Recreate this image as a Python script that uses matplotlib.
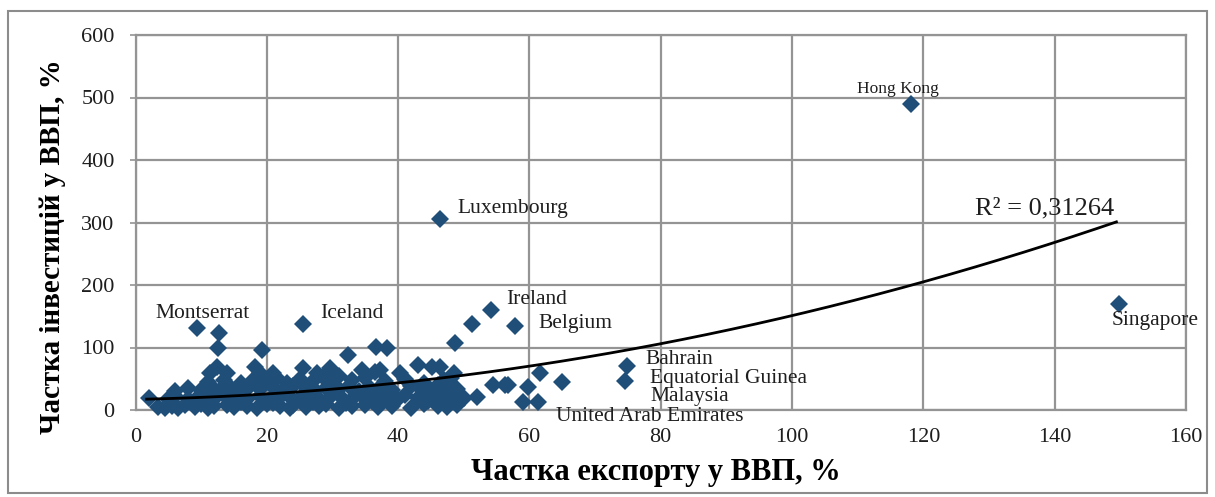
import matplotlib
matplotlib.use("Agg")
import matplotlib.pyplot as plt
import numpy as np
from matplotlib.patches import Rectangle

# ---- data (export share of GDP %, investment share of GDP %) ----
export_share = [
    # bottom row
    3.5, 4.5, 5.5, 6.5, 7.5, 9, 10, 11, 12, 14, 15, 17, 18.5, 20, 22, 23.5, 24, 26, 28, 29,
    31, 33, 35, 37, 39, 42, 44, 46, 47.5, 49,
    # y ~15-25
    2, 5, 6, 8, 9.5, 11, 12.5, 14, 15.5, 17, 19, 20.5, 22, 23, 25, 26.5, 28, 30, 31.5, 33,
    34.5, 36, 38, 40, 41, 43, 45, 46.5, 48, 50, 52,
    # y ~28-40
    6, 8, 10, 11.5, 13, 14.5, 16, 17.5, 19, 21, 22.5, 24, 26, 27.5, 29, 31, 32.5, 34, 35.5, 37,
    39, 42, 44, 46, 47.5, 49, 54.5, 56.3,
    # y ~40-55
    11, 13.5, 16, 18, 20, 21.5, 23, 25, 27, 28.5, 30, 33, 35, 38, 41, 44, 47, 48,
    # y ~55-72
    12.4, 11.3, 13.9, 18.2, 19, 21, 25.5, 27.6, 29.6, 34.5, 36.5, 37.2, 40.3, 43, 45.1, 46.4, 48.5, 31,
    # extra in the dense blob
    44.5, 45.5, 47, 48.5, 46, 43.5, 36, 32, 27, 21, 16, 9,
    # higher
    19.3, 12.5, 32.4, 36.6, 38.3, 48.7, 9.4, 12.7, 25.5, 51.3, 54.1, 57.8, 46.4, 118.1, 149.8,
    # right group
    61.6, 64.9, 56.7, 59.8, 59.0, 61.3, 74.8, 74.6,
]
investment_share = [
    5, 3, 7, 4, 8, 5, 9, 4, 6, 8, 5, 7, 4, 9, 6, 3, 8, 5, 7, 9,
    4, 6, 8, 5, 7, 4, 9, 6, 5, 8,
    19, 17, 22, 18, 21, 16, 24, 19, 22, 17, 23, 18, 21, 25, 19, 22, 17, 24, 20, 18,
    23, 19, 21, 17, 24, 20, 22, 18, 23, 19, 21,
    30, 35, 32, 38, 33, 36, 31, 39, 34, 37, 32, 38, 35, 30, 36, 33, 39, 31, 37, 34,
    32, 38, 35, 30, 36, 33, 40, 40,
    45, 48, 43, 50, 46, 52, 44, 49, 47, 53, 45, 48, 51, 46, 50, 44, 48, 52,
    69, 59, 59, 69, 60, 59, 67, 59, 67, 64, 61, 64, 59, 72, 69, 69, 60, 55,
    14, 28, 12, 26, 40, 33, 14, 12, 13, 12, 13, 12,
    96, 99, 88, 101, 99, 107, 131, 124, 138, 138, 160, 135, 306, 489, 170,
    59, 45, 40, 37, 13, 13, 70, 46,
]

# labelled countries
label_names = ["Hong Kong", "Luxembourg", "Ireland", "Belgium", "Iceland", "Montserrat",
               "Singapore", "Bahrain", "Equatorial Guinea", "Malaysia", "United Arab Emirates"]
label_x = [109.9, 49.1, 56.4, 61.4, 28.2, 3.0, 148.7, 77.6, 78.4, 78.4, 64.0]
label_y = [514, 322, 176, 138, 154, 155, 144, 80, 51, 22, -11]
label_size = [12.5, 15.5, 15.5, 15.5, 15.5, 15.5, 15.5, 15.5, 15.5, 15.5, 15.5]

# trend line (quadratic) coefficients: y = a*x^2 + b*x + c
trend_a, trend_b, trend_c = 0.01135, 0.205, 17.0
trend_x_range = [1.7, 149.4]
r2_text = "R² = 0,31264"

x_ticks = [0, 20, 40, 60, 80, 100, 120, 140, 160]
y_ticks = [0, 100, 200, 300, 400, 500, 600]
x_label = "Частка експорту у ВВП, %"
y_label = "Частка інвестицій у ВВП, %"

# ---- plotting ----
plt.rcParams['font.family'] = ['Liberation Serif', 'DejaVu Serif']
W, H = 1215, 497
fig = plt.figure(figsize=(W / 100, H / 100), dpi=100)
ax = fig.add_axes([135.5 / W, 1 - 410 / H, (1186 - 135.5) / W, (410 - 35) / H])

grid_col = '#949494'
text_col = '#1e1e1e'
ax.set_xlim(0, 160)
ax.set_ylim(0, 600)
ax.set_xticks(x_ticks)
ax.set_yticks(y_ticks)
ax.grid(True, color=grid_col, linewidth=1.6)
ax.set_axisbelow(True)
for s in ax.spines.values():
    s.set_color(grid_col)
    s.set_linewidth(1.6)
ax.tick_params(axis='both', direction='inout', length=8, width=1.2, color=grid_col,
               labelsize=16, labelcolor=text_col)
ax.tick_params(axis='y', pad=11)
ax.tick_params(axis='x', length=0, pad=13)

ax.plot(export_share, investment_share, linestyle='none', marker='D', markersize=9,
        color='#1f4e79', markeredgewidth=0, zorder=3, clip_on=False)

tx = np.linspace(trend_x_range[0], trend_x_range[1], 200)
ty = trend_a * tx ** 2 + trend_b * tx + trend_c
ax.plot(tx, ty, color='black', linewidth=2.0, zorder=4)
ax.text(127.9, 323, r2_text, fontsize=19, ha='left', va='center', color=text_col, zorder=5)

for name, lx, ly, fs in zip(label_names, label_x, label_y, label_size):
    ax.text(lx, ly, name, fontsize=fs, ha='left', va='center', color=text_col,
            clip_on=False, zorder=5)

ax.set_xlabel(x_label, fontsize=22, fontweight='bold', color='black')
ax.set_ylabel(y_label, fontsize=21, fontweight='bold', color='black')
ax.xaxis.set_label_coords(0.495, -0.128)
ax.yaxis.set_label_coords(-0.066, 0.435)

fig.patches.append(Rectangle((8 / W, 4 / H), (1207 - 8) / W, (486 - 4) / H,
                             transform=fig.transFigure, fill=False,
                             edgecolor='#8c8c8c', linewidth=1.5))

fig.savefig('out.png', dpi=100)
